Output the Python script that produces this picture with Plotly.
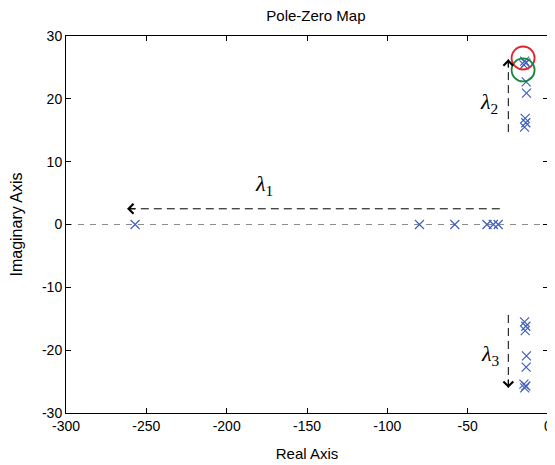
import plotly.graph_objects as go

# Poles (x markers)
pole_re = [-257, -80, -58, -38, -34, -31,
           -14.5, -13.8, -15.0, -13.6, -13.4, -14.2, -13.8, -14.6,
           -14.5, -13.8, -15.0, -13.6, -13.4, -14.2, -13.8, -14.6]
pole_im = [0, 0, 0, 0, 0, 0,
           26.0, 25.7, 25.4, 22.7, 20.9, 16.9, 16.2, 15.5,
           -26.0, -25.7, -25.4, -22.7, -20.9, -16.9, -16.2, -15.5]

# Zeros (circles)
zero_re = [-15.5, -15.5]
zero_im = [26.5, 24.6]
zero_colors = ["#e8202a", "#14883c"]

# Direction arrows (dashed)
lam1_x = [-30, -262]
lam1_y = [2.5, 2.5]
lam2_x = [-24.7, -24.7]
lam2_y = [14.7, 26.3]
lam3_x = [-24.7, -24.7]
lam3_y = [-14.4, -26.0]

labels = ["1", "2", "3"]
label_x = [-177, -37, -36]
label_y = [6.3, 19.3, -20.8]

x_ticks = [-300, -250, -200, -150, -100, -50, 0]
y_ticks = [-30, -20, -10, 0, 10, 20, 30]

FONT = "Liberation Sans"

fig = go.Figure()

# zero reference line
fig.add_shape(type="line", xref="paper", x0=0, x1=1, yref="y", y0=0, y1=0,
              line=dict(color="#8c8c8c", width=1, dash="6px,6px"), layer="below")

for xs, ys in [(lam1_x, lam1_y), (lam2_x, lam2_y), (lam3_x, lam3_y)]:
    dx = xs[1] - xs[0]
    dy = ys[1] - ys[0]
    fig.add_trace(go.Scatter(x=xs, y=ys, mode="lines", showlegend=False,
                             hoverinfo="skip",
                             line=dict(color="black", width=1, dash="8px,5px")))
    fig.add_annotation(x=xs[1], y=ys[1],
                       ax=xs[1] - (6 if dx > 0 else -6 if dx < 0 else 0),
                       ay=ys[1] - (1.6 if dy > 0 else -1.6 if dy < 0 else 0),
                       xref="x", yref="y", axref="x", ayref="y",
                       showarrow=True, arrowhead=4, arrowsize=1.9, arrowwidth=1,
                       arrowcolor="black", text="")

fig.add_trace(go.Scatter(x=pole_re, y=pole_im, mode="markers", showlegend=False,
                         marker=dict(symbol="x-thin-open", size=9, color="#3f5fbf",
                                     line=dict(color="#3f5fbf", width=1.2))))

for zr, zi, c in zip(zero_re, zero_im, zero_colors):
    fig.add_trace(go.Scatter(x=[zr], y=[zi], mode="markers", showlegend=False,
                             marker=dict(symbol="circle-open", size=23, color=c,
                                         line=dict(color=c, width=1.8))))

for t, lx, ly in zip(labels, label_x, label_y):
    fig.add_annotation(x=lx, y=ly, xref="x", yref="y", showarrow=False,
                       text="<i>λ</i><sub>" + t + "</sub>",
                       font=dict(family="Liberation Serif", size=22, color="black"))

axis_common = dict(showline=True, linecolor="black", linewidth=1, mirror="ticks",
                   ticks="inside", ticklen=5, tickcolor="black", showgrid=False,
                   zeroline=False, ticklabeloverflow="allow",
                   tickfont=dict(family=FONT, size=14, color="black"))

fig.update_layout(
    width=547, height=457,
    margin=dict(l=58, r=3, t=28, b=52),
    paper_bgcolor="white", plot_bgcolor="white",
    title=dict(text="Pole-Zero Map", x=0.563, xanchor="center", y=0.994, yanchor="top",
               pad=dict(t=0, b=0),
               font=dict(family=FONT, size=15, color="black")),
    xaxis=dict(range=[-300, 0], tickvals=x_ticks, ticktext=[str(v) for v in x_ticks],
               title=dict(text="Real Axis", font=dict(family=FONT, size=15, color="black"), standoff=15),
               **axis_common),
    yaxis=dict(range=[-30, 30], tickvals=y_ticks, ticktext=[str(v) for v in y_ticks],
               title=dict(text="Imaginary Axis", font=dict(family=FONT, size=16, color="black"), standoff=16),
               **axis_common),
)

fig.write_html("out.html")
